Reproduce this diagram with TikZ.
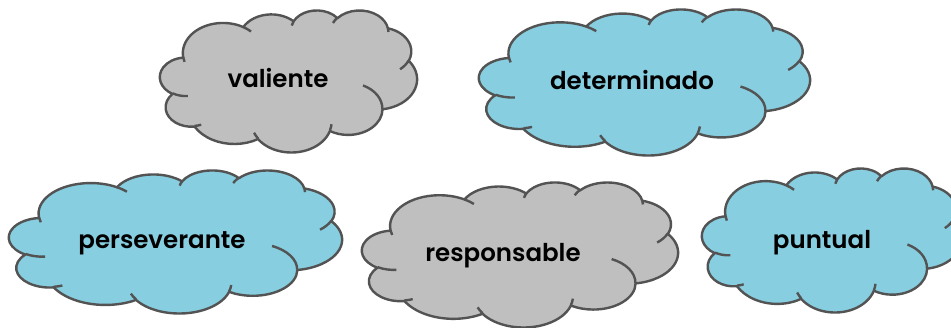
\documentclass[tikz,border=0pt]{standalone}
\usepackage{fontspec}
\setmainfont{Poppins}[BoldFont={Poppins SemiBold}]
\usepackage[usenames,dvipsnames]{xcolor}
\usepackage{tikz}

\definecolor{nubeGris}{RGB}{191,191,191}
\definecolor{nubeAzul}{RGB}{134,206,224}
\definecolor{bordeNube}{RGB}{83,83,83}

\tikzset{
  contorno/.style={draw=bordeNube, line width=2.4pt, line join=round},
  palabra/.style={font=\fontsize{24.5}{28}\selectfont\bfseries, text=black, anchor=base, inner sep=0pt}
}

% nube: color, izquierda, arriba, ancho, alto
\newcommand{\nube}[5]{%
  \begin{scope}[shift={(#2,#3)}, x=#4pt/43.2, y=-#5pt/43.2]
    \filldraw[contorno, fill=#1] (3.9,14.37)
      \foreach \w/\h/\s/\d in {6.753/9.19/-190.48748/123.78053, 5.333/7.267/-144.10238/89.94523,
          4.365/5.945/-145.80792/99.72302, 4.857/6.595/-130.98607/117.24173,
          5.333/7.273/-78.70888/109.02692, 6.775/9.22/-46.26725/130.269,
          5.785/7.867/0.62502/114.03333, 6.752/9.215/22.4516/115.17255,
          7.72/10.543/66.24263/75.71102, 4.36/5.918/-274.94208/146.73557,
          4.345/5.945/-246.8285/152.51885}
      { arc[x radius=\w, y radius=\h, start angle={atan2(\w*sin(\s),\h*cos(\s))},
            delta angle={mod(atan2(\w*sin(\s+\d),\h*cos(\s+\d))-atan2(\w*sin(\s),\h*cos(\s))+720,360)}] }
      -- cycle;
    \foreach \px/\py/\w/\h/\s/\d in {4.693/26.177/4.345/5.945/86.742/26.4295,
        6.928/34.899/4.36/5.918/73.61047/11.44747, 16.478/39.09/6.752/9.215/137.62415/14.0811,
        28.827/34.751/6.752/9.215/6.45327/15.99835, 34.129/22.954/5.785/7.867/-70.29235/70.91737,
        41.798/15.354/5.333/7.273/30.31803/27.7515, 38.324/5.426/4.857/6.595/-13.74433/14.86583,
        29.078/3.952/4.857/6.595/-149.18145/18.19588, 22.141/4.72/4.365/5.945/-163.49427/17.69183,
        14/5.192/6.753/9.19/-66.70695/12.31935, 4.127/15.789/6.753/9.19/157.65435/11.85817}
      \draw[contorno] (\px,\py) arc[x radius=\w, y radius=\h, start angle={atan2(\w*sin(\s),\h*cos(\s))},
            delta angle={mod(atan2(\w*sin(\s+\d),\h*cos(\s+\d))-atan2(\w*sin(\s),\h*cos(\s))+720,360)}];
  \end{scope}}

\begin{document}
\begin{tikzpicture}[x=1pt, y=-1pt]
  \useasboundingbox (0,0) rectangle (951,328);
  \clip (0,0) rectangle (951,328);

  \nube{nubeGris}{160}{10}{257}{142}
  \nube{nubeAzul}{479}{9}{331}{146}
  \nube{nubeAzul}{9}{170}{333}{143}
  \nube{nubeGris}{362}{182}{316}{145}
  \nube{nubeAzul}{702}{168}{260}{144}

  \begin{scope}[every node/.style={palabra}]
    \node (valiente) at (278,88) {valiente};
    \node (determinado) at (632,90) {determinado};
    \node (perseverante) at (162,249) {perseverante};
    \node (responsable) at (503,262) {responsable};
    \node (puntual) at (822,249) {puntual};
  \end{scope}
\end{tikzpicture}
\end{document}
